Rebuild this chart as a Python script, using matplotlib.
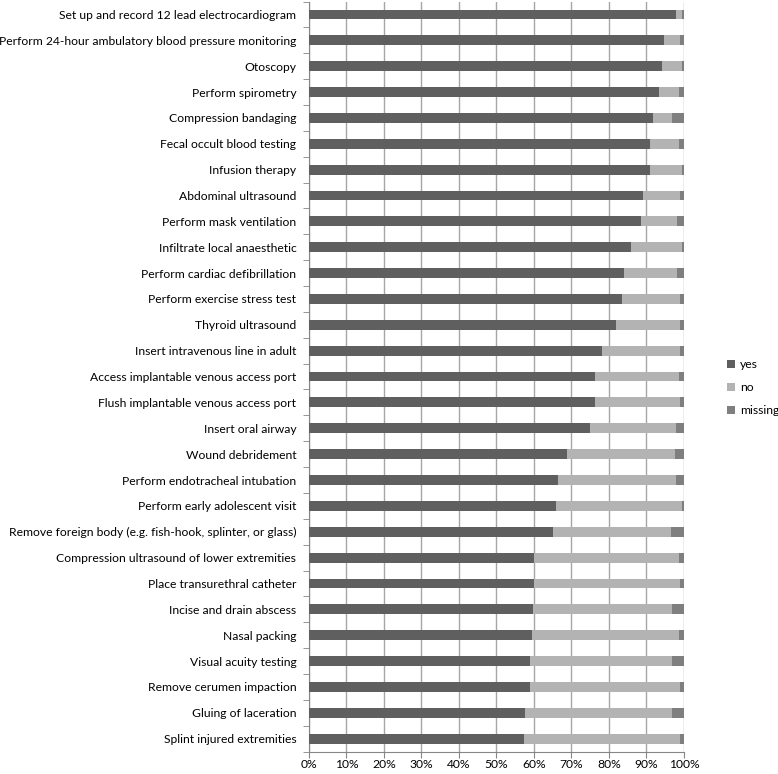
import numpy as np
import matplotlib.pyplot as plt
from matplotlib.ticker import FuncFormatter, MultipleLocator

plt.rcParams["font.family"] = ["Lato", "DejaVu Sans"]

procedures = [
    "Set up and record 12 lead electrocardiogram",
    "Perform 24-hour ambulatory blood pressure monitoring",
    "Otoscopy",
    "Perform spirometry",
    "Compression bandaging",
    "Fecal occult blood testing",
    "Infusion therapy",
    "Abdominal ultrasound",
    "Perform mask ventilation",
    "Infiltrate local anaesthetic",
    "Perform cardiac defibrillation",
    "Perform exercise stress test",
    "Thyroid ultrasound",
    "Insert intravenous line in adult",
    "Access implantable venous access port",
    "Flush implantable venous access port",
    "Insert oral airway",
    "Wound debridement",
    "Perform endotracheal intubation",
    "Perform early adolescent visit",
    "Remove foreign body (e.g. fish-hook, splinter, or glass)",
    "Compression ultrasound of lower extremities",
    "Place transurethral catheter",
    "Incise and drain abscess",
    "Nasal packing",
    "Visual acuity testing",
    "Remove cerumen impaction",
    "Gluing of laceration",
    "Splint injured extremities",
]

yes_pct = [97.9, 94.6, 94.2, 93.5, 91.8, 91.0, 91.0, 89.2, 88.5, 85.9,
           84.1, 83.4, 82.0, 78.3, 76.2, 76.2, 75.1, 68.9, 66.4, 66.0,
           65.0, 60.0, 60.0, 59.7, 59.4, 59.0, 59.0, 57.6, 57.3]
no_pct = [1.5, 4.4, 5.2, 5.1, 5.1, 7.6, 8.4, 9.8, 9.8, 13.5,
          14.2, 15.6, 17.0, 20.7, 22.4, 22.8, 22.9, 28.7, 31.6, 33.4,
          31.5, 38.7, 39.0, 37.2, 39.3, 37.9, 40.0, 39.3, 41.7]
missing_pct = [100 - y - n for y, n in zip(yes_pct, no_pct)]

fig = plt.figure(figsize=(7.78, 7.74), dpi=100)
ax = fig.add_axes([0.397, 0.029, 0.482, 0.969])

y = np.arange(len(procedures))
yes_arr = np.array(yes_pct)
no_arr = np.array(no_pct)
miss_arr = np.array(missing_pct)

bar_h = 0.38
ax.barh(y, yes_arr, height=bar_h, color="#5f5f5f", label="yes", zorder=3)
ax.barh(y, no_arr, left=yes_arr, height=bar_h, color="#b3b3b3", label="no", zorder=3)
ax.barh(y, miss_arr, left=yes_arr + no_arr, height=bar_h, color="#7f7f7f",
        label="missing", zorder=3)

ax.set_xlim(0, 100)
ax.set_ylim(len(procedures) - 0.5, -0.5)
ax.xaxis.set_major_locator(MultipleLocator(10))
ax.xaxis.set_major_formatter(FuncFormatter(lambda v, p: f"{v:.0f}%"))
ax.grid(axis="x", color="#a6a6a6", linewidth=1, zorder=0)

ax.set_yticks(y)
ax.set_yticklabels(procedures)
ax.set_yticks(np.arange(-0.5, len(procedures)), minor=True)
ax.tick_params(axis="y", which="major", length=0, pad=9, labelsize=8.7)
ax.tick_params(axis="y", which="minor", length=4, color="#868686")
ax.tick_params(axis="x", length=4, color="#868686", labelsize=8.7, pad=1.5)

for side in ["top", "right"]:
    ax.spines[side].set_visible(False)
for side in ["left", "bottom"]:
    ax.spines[side].set_color("#868686")

ax.legend(loc="center left", bbox_to_anchor=(1.115, 0.485), frameon=False,
          borderaxespad=0, borderpad=0, handletextpad=0.4,
          handlelength=0.7, handleheight=0.7, fontsize=8.7, labelspacing=1.0)

fig.savefig("out.png", dpi=100)
